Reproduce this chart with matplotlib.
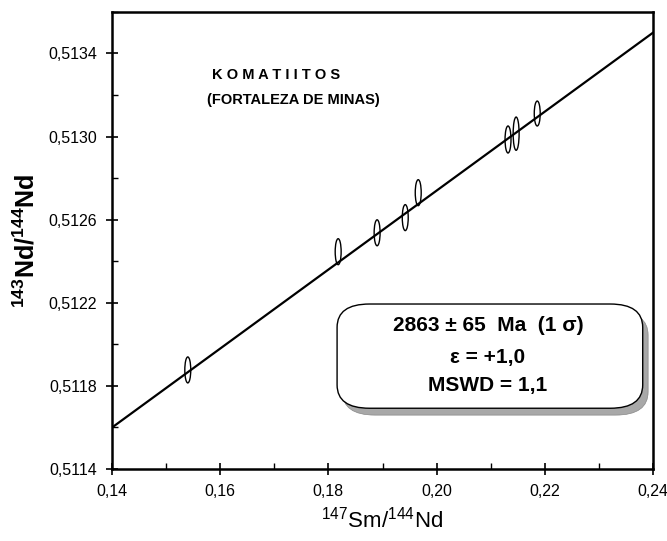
import matplotlib
matplotlib.use('Agg')
import matplotlib.pyplot as plt
from matplotlib.patches import Ellipse, FancyBboxPatch
from matplotlib.ticker import FuncFormatter, MultipleLocator

plt.rcParams['font.family'] = ['Liberation Sans', 'DejaVu Sans']
plt.rcParams['mathtext.fontset'] = 'custom'
plt.rcParams['mathtext.rm'] = 'Liberation Sans'
plt.rcParams['mathtext.bf'] = 'Liberation Sans:bold'

# amostras (147Sm/144Nd, 143Nd/144Nd) e tamanho das elipses de erro
sm_nd = [0.1540, 0.1818, 0.1890, 0.1942, 0.1966, 0.2132, 0.2147, 0.2186]
nd_nd = [0.511877, 0.512446, 0.512537, 0.512610, 0.512730, 0.512986, 0.513014, 0.513111]
err_x = [0.0011, 0.0011, 0.0011, 0.0011, 0.0011, 0.0011, 0.0011, 0.0011]
err_y = [0.000125, 0.000125, 0.000125, 0.000125, 0.000125, 0.000130, 0.000160, 0.000120]

# isocrona
iso_x = [0.14, 0.24]
iso_y = [0.51160, 0.51350]

xticks = [0.14, 0.16, 0.18, 0.20, 0.22, 0.24]
yticks = [0.5114, 0.5118, 0.5122, 0.5126, 0.5130, 0.5134]

fig = plt.figure(figsize=(6.67, 5.41), dpi=100)
ax = fig.add_axes([0.168, 0.133, 0.811, 0.845])

ax.plot(iso_x, iso_y, color='black', lw=1.6, zorder=3)
for x, y, w, h in zip(sm_nd, nd_nd, err_x, err_y):
    ax.add_patch(Ellipse((x, y), w, h, fill=False, ec='black', lw=1.0, zorder=4))

ax.set_xlim(0.14, 0.24)
ax.set_ylim(0.5114, 0.5136)
ax.set_xticks(xticks)
ax.set_yticks(yticks)
ax.xaxis.set_minor_locator(MultipleLocator(0.01))
ax.yaxis.set_minor_locator(MultipleLocator(0.0002))
ax.xaxis.set_major_formatter(FuncFormatter(lambda v, p: f"{v:.2f}".replace('.', ',')))
ax.yaxis.set_major_formatter(FuncFormatter(lambda v, p: f"{v:.4f}".replace('.', ',')))
ax.tick_params(which='major', direction='inout', length=8, width=1.2, labelsize=11.5, pad=7)
ax.tick_params(which='minor', direction='in', length=4, width=1.0)
for s in ax.spines.values():
    s.set_linewidth(1.8)

ax.set_xlabel(r'$^{147}$Sm/$^{144}$Nd', fontsize=16, labelpad=5)
ax.set_ylabel(r'$^{\mathbf{143}}\mathbf{Nd/}^{\mathbf{144}}\mathbf{Nd}$', fontsize=18, labelpad=6)

ax.text(0.303, 0.862, 'K O M A T I I T O S', transform=ax.transAxes, ha='center', va='center',
        fontsize=10.5, fontweight='bold')
ax.text(0.335, 0.807, '(FORTALEZA DE MINAS)', transform=ax.transAxes, ha='center', va='center',
        fontsize=10.5, fontweight='bold')

# caixa com sombra
shadow = FancyBboxPatch((0.426, 0.118), 0.565, 0.226, transform=ax.transAxes,
                        boxstyle='round,pad=0,rounding_size=0.06', fc='#a8a8a8', ec='#888888',
                        lw=0.5, zorder=5, mutation_aspect=0.85)
box = FancyBboxPatch((0.416, 0.133), 0.565, 0.228, transform=ax.transAxes,
                     boxstyle='round,pad=0,rounding_size=0.06', fc='white', ec='black',
                     lw=1.0, zorder=6, mutation_aspect=0.85)
ax.add_patch(shadow)
ax.add_patch(box)

ax.text(0.695, 0.315, '2863 ± 65  Ma  (1 σ)', transform=ax.transAxes, ha='center', va='center',
        fontsize=15, fontweight='bold', zorder=7)
ax.text(0.695, 0.243, 'ε = +1,0', transform=ax.transAxes, ha='center', va='center',
        fontsize=15, fontweight='bold', zorder=7)
ax.text(0.695, 0.183, 'MSWD = 1,1', transform=ax.transAxes, ha='center', va='center',
        fontsize=15, fontweight='bold', zorder=7)

fig.savefig('out.png', dpi=100)
